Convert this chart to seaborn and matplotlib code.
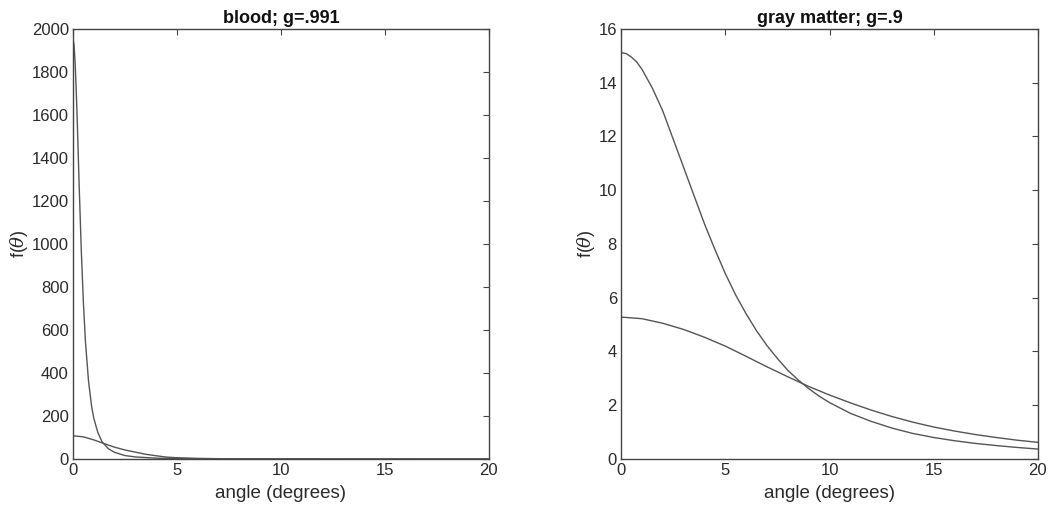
import matplotlib
matplotlib.use("Agg")
import matplotlib.pyplot as plt
import seaborn as sns

# values
# blood, g=.991
blood_angle_sharp = [0, 0.05, 0.1, 0.15, 0.2, 0.3, 0.4, 0.5, 0.6, 0.75, 0.9, 1.0,
                     1.2, 1.4, 1.7, 2.0, 2.5, 3.0, 4.0, 5.0, 7.0, 10.0, 15.0, 20.0]
blood_sharp = [1955, 1925, 1850, 1730, 1590, 1265, 970, 730, 545, 360, 243, 190,
               122, 80, 48, 31, 16, 9.6, 4, 2.1, 0.8, 0.3, 0.1, 0.05]
blood_angle_broad = [0, 0.5, 1.0, 1.4, 2.0, 2.5, 3.0, 3.5, 4.0, 4.5, 5.0, 6.0,
                     7.0, 8.0, 10.0, 15.0, 20.0]
blood_broad = [108, 103, 89, 75, 55, 42, 32, 22, 15, 9, 6, 3,
               1.5, 0.8, 0.3, 0.05, 0.02]

# gray matter, g=.9
gray_angle_sharp = [0, 0.25, 0.5, 0.75, 1, 1.5, 2, 2.5, 3, 3.5, 4, 4.5, 5, 5.5, 6,
                    6.5, 7, 7.5, 8, 8.5, 9, 9.5, 10, 11, 12, 13, 14, 15, 16, 17,
                    18, 19, 20]
gray_sharp = [15.12, 15.08, 14.95, 14.77, 14.5, 13.8, 12.95, 11.9, 10.85, 9.8, 8.75,
              7.8, 6.9, 6.1, 5.4, 4.77, 4.22, 3.74, 3.3, 2.94, 2.62, 2.34, 2.1,
              1.7, 1.4, 1.15, 0.95, 0.8, 0.68, 0.58, 0.5, 0.43, 0.37]
gray_angle_broad = [0, 1, 2, 3, 4, 5, 6, 7, 8, 9, 10, 11, 12, 13, 14, 15, 16, 17,
                    18, 19, 20]
gray_broad = [5.28, 5.22, 5.05, 4.82, 4.53, 4.2, 3.82, 3.43, 3.06, 2.7, 2.38, 2.09,
              1.82, 1.58, 1.37, 1.19, 1.04, 0.91, 0.8, 0.7, 0.62]

sns.set_style("white")
plt.rcParams["font.family"] = ["Liberation Sans", "DejaVu Sans"]
plt.rcParams["mathtext.fontset"] = "dejavuserif"

line_col = "#555555"
frame_col = "#444444"
text_col = "#2a2a2a"

fig = plt.figure(figsize=(10.5, 5.12), dpi=100)
ax1 = fig.add_axes([0.0695, 0.1035, 0.396, 0.840])
ax2 = fig.add_axes([0.5915, 0.1035, 0.397, 0.840])


def draw_panel(ax, xs, ys, title, ymax, yticks):
    for x, y in zip(xs, ys):
        sns.lineplot(x=x, y=y, ax=ax, color=line_col, linewidth=1.0,
                     estimator=None, sort=False)
    ax.set_xlim(0, 20)
    ax.set_ylim(0, ymax)
    ax.set_xticks([0, 5, 10, 15, 20])
    ax.set_yticks(yticks)
    ax.set_title(title, fontsize=13, fontweight="bold", color="#111111", pad=4)
    ax.set_xlabel("angle (degrees)", fontsize=13.5, color=text_col, labelpad=5)
    ax.set_ylabel(r"f($\theta$)", fontsize=13, color=text_col, labelpad=1)
    ax.tick_params(direction="in", top=True, right=True, length=4, width=0.8,
                   labelsize=12, colors=frame_col, labelcolor=text_col, pad=3)
    for s in ax.spines.values():
        s.set_visible(True)
        s.set_color(frame_col)
        s.set_linewidth(1.0)


draw_panel(ax1, [blood_angle_sharp, blood_angle_broad], [blood_sharp, blood_broad],
           "blood; g=.991", 2000, list(range(0, 2001, 200)))
draw_panel(ax2, [gray_angle_sharp, gray_angle_broad], [gray_sharp, gray_broad],
           "gray matter; g=.9", 16, list(range(0, 17, 2)))

fig.savefig("out.png", dpi=100)
